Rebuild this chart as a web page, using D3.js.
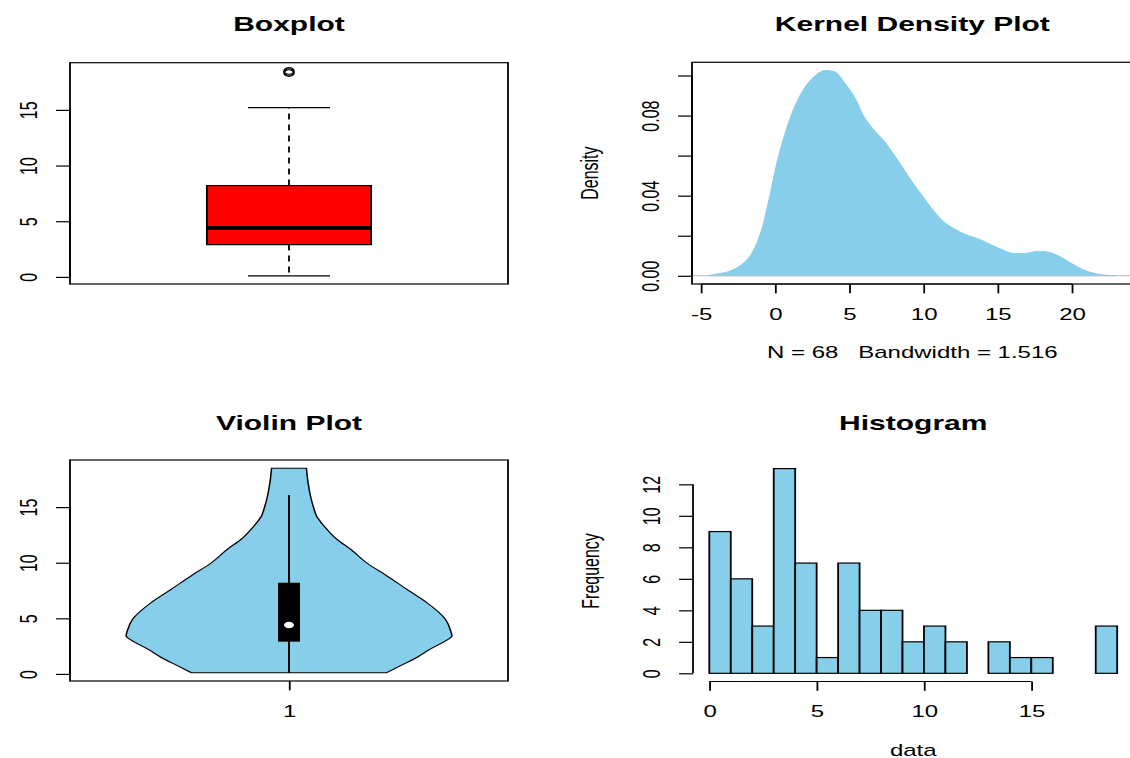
<!DOCTYPE html>
<html>
<head>
<meta charset="utf-8">
<script src="https://cdn.jsdelivr.net/npm/d3@7"></script>
<style>
html, body { margin: 0; padding: 0; background: #fff; }
svg { display: block; }
text { font-family: "Liberation Sans", Arial, Helvetica, sans-serif; fill: #000; }
</style>
</head>
<body>
<svg id="chart"></svg>
<script>
// ---------------- data ----------------
// Boxplot: lower whisker, Q1, median, Q3, upper whisker
const boxStats = [0.1, 2.9, 4.4, 8.2, 15.2];
const boxOutliers = [18.3, 18.4, 18.5];
const boxTicks = [0, 5, 10, 15];

// Kernel density estimate (x, density)
const densityX = [-4.5, -4.0, -3.0, -2.3, -1.57, -0.84, -0.36, 0.12, 0.61, 1.33, 2.06, 2.78, 3.39, 3.99,
  4.71, 5.44, 5.92, 6.65, 7.37, 8.1, 9.06, 10.03, 11.24, 12.45, 13.89, 15.1, 16.07, 16.79, 17.76,
  18.49, 19.21, 20.18, 21.14, 22.11, 23.0];
const densityY = [0.0001, 0.0008, 0.0025, 0.0053, 0.011, 0.0245, 0.0395, 0.056, 0.0695, 0.0845, 0.0945,
  0.1003, 0.1025, 0.102, 0.096, 0.0878, 0.0803, 0.0728, 0.067, 0.0595, 0.0487, 0.0387, 0.0278, 0.022,
  0.0178, 0.0137, 0.0112, 0.0112, 0.0123, 0.0117, 0.0095, 0.0053, 0.002, 0.0005, 0.0001];
const densityXTicks = [-5, 0, 5, 10, 15, 20];
const densityYTicks = [0, 0.02, 0.04, 0.06, 0.08, 0.10];
const densityYLabels = ["0.00", "", "0.04", "", "0.08", ""];
const densityN = 68;
const densityBandwidth = "1.516";

// Violin: levels and relative density at each level
const violinLevels = [0.1, 0.75, 1.5, 2.25, 3.0, 3.4, 3.9, 4.9, 6.4, 7.6, 8.8, 9.95, 11.2, 12.1, 13.3,
  14.2, 15.0, 16.0, 17.2, 18.5];
const violinDensity = [0.598, 0.685, 0.787, 0.869, 0.963, 1.0, 0.992, 0.961, 0.847, 0.724, 0.603, 0.48,
  0.379, 0.294, 0.215, 0.169, 0.15, 0.132, 0.117, 0.107];
// lower whisker, Q1, median, Q3, upper whisker
const violinStats = [0.1, 2.9, 4.4, 8.2, 16.1];
const violinTicks = [0, 5, 10, 15];
const violinGroups = [1];

// Histogram
const histBreaks = [0, 1, 2, 3, 4, 5, 6, 7, 8, 9, 10, 11, 12, 13, 14, 15, 16, 17, 18, 19];
const histCounts = [9, 6, 3, 13, 7, 1, 7, 4, 4, 2, 3, 2, 0, 2, 1, 1, 0, 0, 3];
const histXTicks = [0, 5, 10, 15];
const histYTicks = [0, 2, 4, 6, 8, 10, 12];

// ---------------- layout ----------------
const WIDTH = 1130, HEIGHT = 758;
const S = 1.5;            // horizontal stretch of the whole figure
const FS = 16;            // axis text size
const TFS = 20;           // title size
const TICK = 9.3;         // tick length
const LW = 1.2;           // line width
const SKY = "#87CEEB";

// plot regions, in screen pixels
const P1 = { x0: 70, x1: 508, y0: 62.7, y1: 284 };
const P2 = { x0: 692, x1: 1132.6, y0: 62.3, y1: 284 };
const P3 = { x0: 70, x1: 508, y0: 460, y1: 681 };
const P4 = { x0: 693, x1: 1133.5, y0: 460.4, y1: 681.5 };
[P1, P2, P3, P4].forEach(p => { p.x0 /= S; p.x1 /= S; });

const pad = (lo, hi) => { const e = (hi - lo) * 0.04; return [lo - e, hi + e]; };

const svg = d3.select("#chart")
  .attr("width", WIDTH).attr("height", HEIGHT)
  .attr("viewBox", `0 0 ${WIDTH / S} ${HEIGHT}`)
  .attr("preserveAspectRatio", "none");
svg.append("rect").attr("width", WIDTH / S).attr("height", HEIGHT).attr("fill", "#fff");

function frame(p) {
  svg.append("rect").attr("x", p.x0).attr("y", p.y0)
    .attr("width", p.x1 - p.x0).attr("height", p.y1 - p.y0)
    .attr("fill", "none").attr("stroke", "#000").attr("stroke-width", LW);
}

function title(p, txt, baseline) {
  svg.append("text").attr("x", (p.x0 + p.x1) / 2).attr("y", baseline)
    .attr("text-anchor", "middle").attr("font-size", TFS).attr("font-weight", "bold").text(txt);
}

function styleAxis(g) {
  g.attr("font-size", FS).attr("font-family", null);
  g.selectAll("line, path").attr("stroke", "#000").attr("stroke-width", LW);
}

function leftAxis(p, y, ticks, labels) {
  const axis = d3.axisLeft(y).tickValues(ticks).tickSize(TICK).tickSizeOuter(0)
    .tickFormat((d, i) => labels ? labels[i] : String(d));
  const g = svg.append("g").attr("transform", `translate(${p.x0},0)`).call(axis);
  g.select(".domain").attr("d", `M0,${y(ticks[0])}V${y(ticks[ticks.length - 1])}`);
  g.selectAll(".tick text").attr("x", null).attr("dy", null)
    .attr("text-anchor", "middle").attr("transform", "translate(-22.2,0) rotate(-90)");
  styleAxis(g);
}

function bottomAxis(p, x, ticks, labels) {
  const axis = d3.axisBottom(x).tickValues(ticks).tickSize(TICK).tickSizeOuter(0)
    .tickFormat((d, i) => labels ? labels[i] : String(d));
  const g = svg.append("g").attr("transform", `translate(0,${p.y1})`).call(axis);
  g.select(".domain").attr("d", `M${x(ticks[0])},0H${x(ticks[ticks.length - 1])}`);
  g.selectAll(".tick text").attr("y", 36).attr("dy", null);
  styleAxis(g);
}

function yLabel(p, txt) {
  svg.append("text").attr("font-size", FS).attr("text-anchor", "middle")
    .attr("transform", `translate(${p.x0 - 62.7},${(p.y0 + p.y1) / 2}) rotate(-90)`).text(txt);
}

// ---------------- Boxplot ----------------
{
  const y = d3.scaleLinear().domain(pad(boxStats[0], d3.max(boxOutliers))).range([P1.y1, P1.y0]);
  const x = d3.scaleLinear().domain([0.5, 1.5]).range([P1.x0, P1.x1]);
  const boxwex = 0.375;
  const [lo, q1, med, q3, hi] = boxStats;
  const g = svg.append("g");
  // dashed whiskers
  g.selectAll("line.whisker").data([[q3, hi], [q1, lo]]).join("line")
    .attr("x1", x(1)).attr("x2", x(1)).attr("y1", d => y(d[0])).attr("y2", d => y(d[1]))
    .attr("stroke", "#000").attr("stroke-width", LW).attr("stroke-dasharray", "6,5");
  // staples
  g.selectAll("line.staple").data([lo, hi]).join("line")
    .attr("x1", x(1 - boxwex / 4)).attr("x2", x(1 + boxwex / 4))
    .attr("y1", d => y(d)).attr("y2", d => y(d))
    .attr("stroke", "#000").attr("stroke-width", LW);
  // box
  g.append("rect").attr("x", x(1 - boxwex / 2)).attr("width", x(1 + boxwex / 2) - x(1 - boxwex / 2))
    .attr("y", y(q3)).attr("height", y(q1) - y(q3))
    .attr("fill", "#FF0000").attr("stroke", "#000").attr("stroke-width", LW);
  // median
  g.append("line").attr("x1", x(1 - boxwex / 2)).attr("x2", x(1 + boxwex / 2))
    .attr("y1", y(med)).attr("y2", y(med)).attr("stroke", "#000").attr("stroke-width", 4);
  // outliers
  g.selectAll("circle").data(boxOutliers).join("circle")
    .attr("cx", x(1)).attr("cy", d => y(d)).attr("r", 3.3)
    .attr("fill", "none").attr("stroke", "#000").attr("stroke-width", 1);
  frame(P1);
  leftAxis(P1, y, boxTicks);
  title(P1, "Boxplot", 31);
}

// ---------------- Kernel density ----------------
{
  const pts = densityX.map((v, i) => ({ x: v, y: densityY[i] }));
  const x = d3.scaleLinear().domain(pad(d3.min(densityX), d3.max(densityX))).range([P2.x0, P2.x1]);
  const y = d3.scaleLinear().domain(pad(0, d3.max(densityY))).range([P2.y1, P2.y0]);
  const area = d3.area().x(d => x(d.x)).y0(y(0)).y1(d => y(d.y)).curve(d3.curveMonotoneX);
  svg.append("path").attr("d", area(pts)).attr("fill", SKY).attr("stroke", SKY).attr("stroke-width", 0.8);
  svg.append("line").attr("x1", P2.x0).attr("x2", P2.x1).attr("y1", y(0)).attr("y2", y(0))
    .attr("stroke", "#bebebe").attr("stroke-width", 1);
  frame(P2);
  leftAxis(P2, y, densityYTicks, densityYLabels);
  bottomAxis(P2, x, densityXTicks);
  yLabel(P2, "Density");
  svg.append("text").attr("x", (P2.x0 + P2.x1) / 2).attr("y", P2.y1 + 74)
    .attr("text-anchor", "middle").attr("font-size", FS).attr("xml:space", "preserve")
    .text(`N = ${densityN}   Bandwidth = ${densityBandwidth}`);
  title(P2, "Kernel Density Plot", 31.5);
}

// ---------------- Violin ----------------
{
  const rows = violinLevels.map((v, i) => ({ v, d: violinDensity[i] }));
  const y = d3.scaleLinear().domain(pad(d3.min(violinLevels), d3.max(violinLevels))).range([P3.y1, P3.y0]);
  const x = d3.scaleLinear().domain([0.5, 1.5]).range([P3.x0, P3.x1]);
  const w = d3.scaleLinear().domain([0, d3.max(violinDensity)]).range([0, 0.372]);
  const at = violinGroups[0];
  const area = d3.area().y(d => y(d.v)).x0(d => x(at - w(d.d))).x1(d => x(at + w(d.d)))
    .curve(d3.curveMonotoneY);
  svg.append("path").attr("d", area(rows)).attr("fill", SKY).attr("stroke", "#000").attr("stroke-width", 1);
  const [lo, q1, med, q3, hi] = violinStats;
  svg.append("line").attr("x1", x(at)).attr("x2", x(at)).attr("y1", y(lo)).attr("y2", y(hi))
    .attr("stroke", "#000").attr("stroke-width", 1.3);
  const bw = 0.025;
  svg.append("rect").attr("x", x(at - bw)).attr("width", x(at + bw) - x(at - bw))
    .attr("y", y(q3)).attr("height", y(q1) - y(q3)).attr("fill", "#000");
  svg.append("circle").attr("cx", x(at)).attr("cy", y(med)).attr("r", 3.3).attr("fill", "#fff");
  frame(P3);
  leftAxis(P3, y, violinTicks);
  bottomAxis(P3, x, violinGroups);
  title(P3, "Violin Plot", 430);
}

// ---------------- Histogram ----------------
{
  const bins = histCounts.map((c, i) => ({ x0: histBreaks[i], x1: histBreaks[i + 1], c }));
  const x = d3.scaleLinear().domain(pad(histBreaks[0], histBreaks[histBreaks.length - 1])).range([P4.x0, P4.x1]);
  const y = d3.scaleLinear().domain(pad(0, d3.max(histCounts))).range([P4.y1, P4.y0]);
  svg.append("g").selectAll("rect").data(bins.filter(b => b.c > 0)).join("rect")
    .attr("x", d => x(d.x0)).attr("width", d => x(d.x1) - x(d.x0))
    .attr("y", d => y(d.c)).attr("height", d => y(0) - y(d.c))
    .attr("fill", SKY).attr("stroke", "#000").attr("stroke-width", LW);
  leftAxis(P4, y, histYTicks);
  bottomAxis(P4, x, histXTicks);
  yLabel(P4, "Frequency");
  svg.append("text").attr("x", (P4.x0 + P4.x1) / 2).attr("y", P4.y1 + 74.5)
    .attr("text-anchor", "middle").attr("font-size", FS).text("data");
  title(P4, "Histogram", 430);
}
</script>
</body>
</html>
